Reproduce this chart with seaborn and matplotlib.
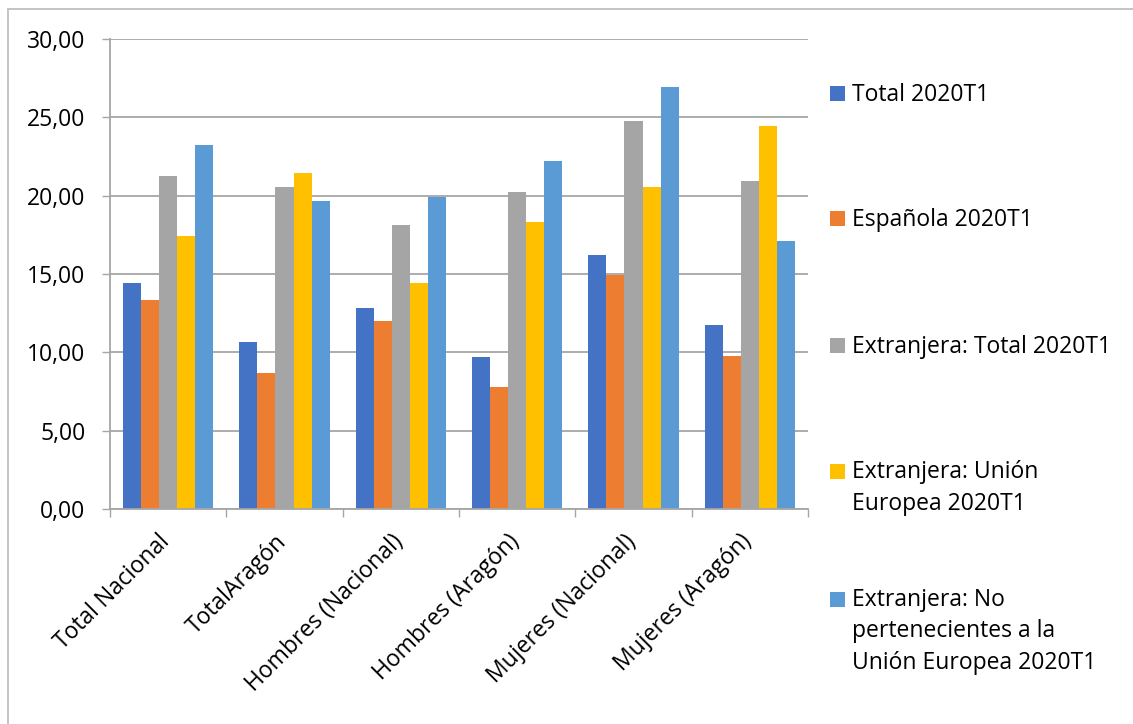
import pandas as pd
import matplotlib
matplotlib.use("Agg")
import matplotlib.pyplot as plt
import matplotlib.transforms as mtransforms
from matplotlib.patches import Rectangle
import seaborn as sns

# Categories and series
categories = ['Total Nacional', 'TotalAragón', 'Hombres (Nacional)',
              'Hombres (Aragón)', 'Mujeres (Nacional)', 'Mujeres (Aragón)']
series_names = ['Total 2020T1', 'Española 2020T1', 'Extranjera: Total 2020T1',
                'Extranjera: Unión Europea 2020T1',
                'Extranjera: No pertenecientes a la Unión Europea 2020T1']
total = [14.40, 10.64, 12.81, 9.68, 16.23, 11.72]
espanola = [13.34, 8.70, 11.98, 7.81, 14.91, 9.77]
extranjera_total = [21.23, 20.57, 18.11, 20.21, 24.74, 20.94]
extranjera_ue = [17.40, 21.43, 14.40, 18.30, 20.57, 24.47]
extranjera_no_ue = [23.21, 19.64, 19.94, 22.21, 26.96, 17.11]

# Legend text as shown (wrapped)
legend_labels = ['Total 2020T1', 'Española 2020T1', 'Extranjera: Total 2020T1',
                 'Extranjera: Unión\nEuropea 2020T1',
                 'Extranjera: No\npertenecientes a la\nUnión Europea 2020T1']
colors = ['#4472C4', '#ED7D31', '#A5A5A5', '#FFC000', '#5B9BD5']

# Build a long table for seaborn
wide = pd.DataFrame({'categoria': categories})
for name, vals in zip(series_names, [total, espanola, extranjera_total,
                                     extranjera_ue, extranjera_no_ue]):
    wide[name] = vals
df = wide.melt(id_vars='categoria', var_name='serie', value_name='valor')

sns.set_style('white')
plt.rcParams['font.family'] = ['Open Sans', 'DejaVu Sans']

W, H = 1133, 724
fig = plt.figure(figsize=(W / 100, H / 100), dpi=100)
ax = fig.add_axes([110 / W, 1 - 509 / H, 698 / W, 470 / H])

sns.barplot(data=df, x='categoria', y='valor', hue='serie', order=categories,
            hue_order=series_names, palette=colors, width=0.774, dodge=True,
            linewidth=0, saturation=1, ax=ax, legend=False)

# Axes styling (Excel look)
grid_col = '#A6A6A6'
ax.set_ylim(0, 30)
ax.set_xlim(-0.5, len(categories) - 0.5)
ax.set_yticks(range(0, 31, 5))
ax.set_yticklabels([f'{v:.2f}'.replace('.', ',') for v in range(0, 31, 5)])
ax.yaxis.grid(True, color=grid_col, linewidth=1.3)
ax.set_axisbelow(True)
ax.set_xlabel('')
ax.set_ylabel('')
for side in ['top', 'right']:
    ax.spines[side].set_visible(False)
for side in ['left', 'bottom']:
    ax.spines[side].set_color(grid_col)
    ax.spines[side].set_linewidth(1.3)

ax.tick_params(axis='y', direction='out', length=5.8, width=1, color=grid_col,
               pad=12, labelsize=16.5, labelcolor='black', left=True)
ax.set_xticks(range(len(categories)))
ax.set_xticks([i - 0.5 for i in range(len(categories) + 1)], minor=True)
ax.tick_params(axis='x', which='major', length=0, pad=15, labelsize=16.5,
               labelcolor='black')
ax.tick_params(axis='x', which='minor', direction='out', length=5.8, width=1,
               color=grid_col, bottom=True)
offset = mtransforms.ScaledTranslation(7 / 100, 0, fig.dpi_scale_trans)
for lab in ax.get_xticklabels():
    lab.set_rotation(45)
    lab.set_ha('right')
    lab.set_va('top')
    lab.set_transform(lab.get_transform() + offset)

# Legend drawn at the right, entries aligned on first line like Excel
first_baselines = [101, 226, 353, 479, 607]
line_step = 31
for col, lab, yb in zip(colors, legend_labels, first_baselines):
    n_lines = lab.count('\n') + 1
    fig.patches.append(Rectangle((830 / W, 1 - (yb - 0.5) / H), 15 / W, 15 / H,
                                 transform=fig.transFigure, facecolor=col,
                                 edgecolor='none'))
    # va='baseline' anchors the last line, so shift down by the extra lines
    y_last = yb + (n_lines - 1) * line_step
    fig.text(852 / W, 1 - y_last / H, lab, fontsize=16.5, va='baseline',
             ha='left', color='black', linespacing=1.43)

# Chart area border
fig.patches.append(Rectangle((8 / W, -0.05), 1.1, 1.05 - 9 / H,
                             transform=fig.transFigure, fill=False,
                             edgecolor='#BFBFBF', linewidth=1.3))

fig.savefig('out.png', dpi=100)
